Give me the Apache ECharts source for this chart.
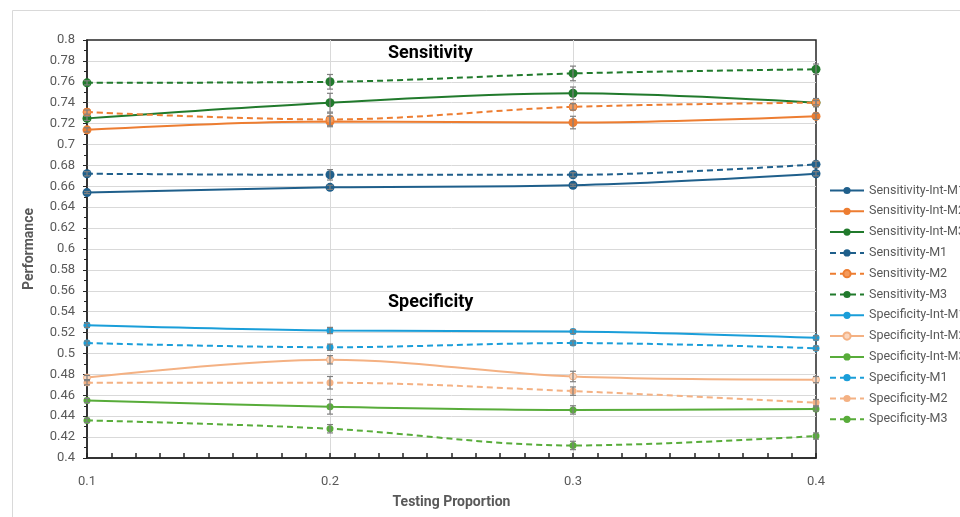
<!DOCTYPE html>
<html>
<head>
<meta charset="utf-8">
<script src="https://cdn.jsdelivr.net/npm/echarts@6/dist/echarts.min.js"></script>
<style>
  html, body { margin: 0; padding: 0; background: #fff; }
  #main { width: 960px; height: 517px; }
</style>
</head>
<body>
<div id="main"></div>
<script>
// 横轴：测试比例
var xVals = [0.1, 0.2, 0.3, 0.4];

// Sensitivity 数据
var sensIntM1 = [0.654, 0.659, 0.661, 0.672];
var sensIntM2 = [0.714, 0.722, 0.721, 0.727];
var sensIntM3 = [0.725, 0.740, 0.749, 0.740];
var sensM1 = [0.672, 0.671, 0.671, 0.681];
var sensM2 = [0.731, 0.724, 0.736, 0.740];
var sensM3 = [0.759, 0.760, 0.768, 0.772];

// Specificity 数据
var specIntM1 = [0.527, 0.522, 0.521, 0.515];
var specIntM2 = [0.477, 0.494, 0.478, 0.475];
var specIntM3 = [0.455, 0.449, 0.446, 0.447];
var specM1 = [0.510, 0.506, 0.510, 0.505];
var specM2 = [0.472, 0.472, 0.464, 0.453];
var specM3 = [0.436, 0.428, 0.412, 0.421];

// 误差（±）
var sensIntM1Err = [0.001, 0.002, 0.001, 0.002];
var sensIntM2Err = [0.002, 0.005, 0.006, 0.003];
var sensIntM3Err = [0.002, 0.009, 0.006, 0.002];
var sensM1Err = [0.002, 0.005, 0.002, 0.003];
var sensM2Err = [0.002, 0.006, 0.003, 0.004];
var sensM3Err = [0.002, 0.007, 0.007, 0.005];
var specIntM1Err = [0.002, 0.003, 0.002, 0.002];
var specIntM2Err = [0.002, 0.004, 0.005, 0.003];
var specIntM3Err = [0.002, 0.007, 0.004, 0.002];
var specM1Err = [0.002, 0.003, 0.002, 0.002];
var specM2Err = [0.002, 0.006, 0.004, 0.003];
var specM3Err = [0.002, 0.004, 0.004, 0.003];

var seriesNames = [
    'Sensitivity-Int-M1', 'Sensitivity-Int-M2', 'Sensitivity-Int-M3',
    'Sensitivity-M1', 'Sensitivity-M2', 'Sensitivity-M3',
    'Specificity-Int-M1', 'Specificity-Int-M2', 'Specificity-Int-M3',
    'Specificity-M1', 'Specificity-M2', 'Specificity-M3'
];

var myChart = echarts.init(document.getElementById('main'));

var textColor = '#595959';
var font = 'Roboto';

// 组装一条折线
function makeLine(name, vals, color, dashed, size, fill) {
    return {
        name: name,
        type: 'line',
        smooth: 0.35,
        symbol: 'circle',
        symbolSize: size,
        showSymbol: true,
        data: xVals.map(function (x, i) { return [x, vals[i]]; }),
        lineStyle: { color: color, width: 2, type: dashed ? [6, 4] : 'solid' },
        itemStyle: { color: fill || color, borderColor: color, borderWidth: fill ? 1 : 0 },
        emphasis: { disabled: true },
        z: 3
    };
}

// 误差线（custom series，通过坐标轴换算）
function makeErr(vals, errs) {
    return {
        type: 'custom',
        silent: true,
        z: 4,
        data: xVals.map(function (x, i) { return [x, vals[i] - errs[i], vals[i] + errs[i]]; }),
        renderItem: function (params, api) {
            var lo = api.coord([api.value(0), api.value(1)]);
            var hi = api.coord([api.value(0), api.value(2)]);
            var w = 3;
            var st = { stroke: '#7f7f7f', lineWidth: 1.2 };
            return {
                type: 'group',
                children: [
                    { type: 'line', shape: { x1: lo[0], y1: lo[1], x2: hi[0], y2: hi[1] }, style: st },
                    { type: 'line', shape: { x1: lo[0] - w, y1: lo[1], x2: lo[0] + w, y2: lo[1] }, style: st },
                    { type: 'line', shape: { x1: hi[0] - w, y1: hi[1], x2: hi[0] + w, y2: hi[1] }, style: st }
                ]
            };
        }
    };
}

var lineDefs = [
    [sensIntM1, sensIntM1Err, '#1f5f8b', false, 9],
    [sensIntM2, sensIntM2Err, '#ed7d31', false, 9],
    [sensIntM3, sensIntM3Err, '#217a2c', false, 9],
    [sensM1, sensM1Err, '#1f5f8b', true, 9],
    [sensM2, sensM2Err, '#ed7d31', true, 8, '#f49a5c'],
    [sensM3, sensM3Err, '#217a2c', true, 9],
    [specIntM1, specIntM1Err, '#1a9ed9', false, 7],
    [specIntM2, specIntM2Err, '#f4b183', false, 7, '#fbd6bd'],
    [specIntM3, specIntM3Err, '#58ac3a', false, 7],
    [specM1, specM1Err, '#1a9ed9', true, 7],
    [specM2, specM2Err, '#f4b183', true, 7],
    [specM3, specM3Err, '#58ac3a', true, 7]
];

var series = [];
for (var i = 0; i < lineDefs.length; i++) {
    var d = lineDefs[i];
    series.push(makeLine(seriesNames[i], d[0], d[2], d[3], d[4], d[5]));
}
for (var j = 0; j < lineDefs.length; j++) {
    series.push(makeErr(lineDefs[j][0], lineDefs[j][1]));
}

var option = {
    backgroundColor: '#fff',
    animation: false,
    grid: {
        left: 87, right: 144, top: 40, bottom: 59,
        show: true, borderColor: '#262626', borderWidth: 1.5
    },
    legend: {
        orient: 'vertical',
        left: 824,
        top: 179,
        itemWidth: 34,
        itemHeight: 9,
        itemGap: 7.8,
        data: seriesNames,
        textStyle: { color: textColor, fontSize: 12.5, fontFamily: font },
        selectedMode: false
    },
    xAxis: {
        type: 'value',
        min: 0.1, max: 0.4, interval: 0.1,
        name: 'Testing Proportion',
        nameLocation: 'middle',
        nameGap: 37,
        nameTextStyle: { color: textColor, fontSize: 14, fontWeight: 'bold', fontFamily: font },
        axisLine: { show: true, lineStyle: { color: '#262626', width: 1.5 } },
        axisTick: { show: true, inside: true, length: 5, lineStyle: { color: '#262626', width: 1.5 } },
        minorTick: { show: true, splitNumber: 10, length: 5, lineStyle: { color: '#262626', width: 1.5 } },
        axisLabel: { color: textColor, fontSize: 13, fontFamily: font, margin: 17 },
        splitLine: { show: true, showMinLine: false, showMaxLine: false, lineStyle: { color: '#d9d9d9', width: 1 } }
    },
    yAxis: {
        type: 'value',
        min: 0.4, max: 0.8, interval: 0.02,
        name: 'Performance',
        nameLocation: 'middle',
        nameGap: 51,
        nameTextStyle: { color: textColor, fontSize: 14, fontWeight: 'bold', fontFamily: font },
        axisLine: { show: true, lineStyle: { color: '#262626', width: 1.5 } },
        axisTick: { show: true, length: 4, lineStyle: { color: '#262626', width: 1 } },
        minorTick: { show: true, splitNumber: 2, length: 3, lineStyle: { color: '#262626', width: 1 } },
        axisLabel: { color: textColor, fontSize: 13, fontFamily: font, margin: 12 },
        splitLine: { show: true, showMinLine: false, showMaxLine: false, lineStyle: { color: '#d9d9d9', width: 1 } }
    },
    graphic: [
        { type: 'rect', silent: true, z: -1, shape: { x: 12.5, y: 10.5, width: 1000, height: 600 },
          style: { fill: 'none', stroke: '#d9d9d9', lineWidth: 1 } },
        { type: 'text', left: 388, top: 44, z: 10,
          style: { text: 'Sensitivity', fill: '#000', font: 'bold 18px Roboto' } },
        { type: 'text', left: 388, top: 293, z: 10,
          style: { text: 'Specificity', fill: '#000', font: 'bold 18px Roboto' } }
    ],
    series: series
};

myChart.setOption(option);
</script>
</body>
</html>
